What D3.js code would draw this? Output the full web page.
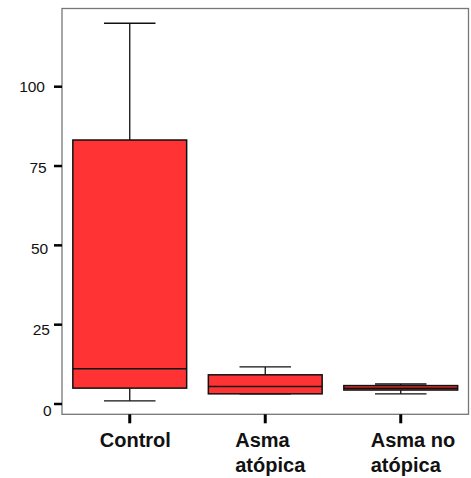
<!DOCTYPE html>
<html><head><meta charset="utf-8">
<script src="https://cdn.jsdelivr.net/npm/d3@7"></script>
<style>body{margin:0;background:#fff;}svg{display:block;}</style>
</head><body>
<script>
const categories = [["Control"], ["Asma", "atópica"], ["Asma no", "atópica"]];
const whiskerLow = [1, 3.2, 3.2];
const q1 = [5, 3.2, 4.4];
const median = [11.1, 5.5, 5.0];
const q3 = [83.2, 9.2, 5.8];
const whiskerHigh = [120, 11.7, 6.3];
const yTicks = [0, 25, 50, 75, 100];

(function () {
const W = 471, H = 478;
const mL = 62, mR = 468.5, mT = 8.5, mB = 414.3;
const svg = d3.select("body").append("svg").attr("width", W).attr("height", H);

const x = d3.scaleBand().domain(d3.range(categories.length)).range([mL, mR]).padding(0);
const y = d3.scaleLinear().domain([0, 100]).range([404, 86.7]);
// label placement scale (labels in the original drift slightly from their ticks)
const yl = d3.scaleLinear().domain([0, 100]).range([410, 86.7]);
const xl = d3.scaleLinear().domain([0, 100]).range([51.5, 45]);

// frame
svg.append("rect").attr("x", mL).attr("y", mT).attr("width", mR - mL).attr("height", mB - mT)
  .attr("fill", "none").attr("stroke", "#777").attr("stroke-width", 1.3);

// y axis ticks
svg.selectAll(".yt").data(yTicks).enter().append("line")
  .attr("x1", mL - 8).attr("x2", mL).attr("y1", d => y(d)).attr("y2", d => y(d))
  .attr("stroke", "#000").attr("stroke-width", 2.5);
svg.selectAll(".yl").data(yTicks).enter().append("text")
  .attr("x", d => xl(d)).attr("y", d => yl(d)).attr("dy", "0.36em")
  .attr("text-anchor", "end").attr("font-family", "Liberation Sans, Arial, sans-serif")
  .attr("font-size", 15.5).attr("fill", "#111").text(d => d);

// x ticks
const cx = i => x(i) + x.bandwidth() / 2;
svg.selectAll(".xt").data(categories).enter().append("line")
  .attr("x1", (d, i) => cx(i)).attr("x2", (d, i) => cx(i)).attr("y1", mB).attr("y2", mB + 9)
  .attr("stroke", "#000").attr("stroke-width", 3);

// x labels
const lbl = svg.selectAll(".xl").data(categories).enter().append("text")
  .attr("font-family", "Liberation Sans, Arial, sans-serif").attr("font-weight", "bold")
  .attr("font-size", 20).attr("fill", "#111");
lbl.each(function(d, i) {
  const t = d3.select(this);
  d.forEach((line, j) => {
    t.append("tspan").attr("x", cx(i) - 30).attr("y", 446.7 + j * 25).text(line);
  });
});

// boxes
const boxW = x.bandwidth() * 0.84, capW = x.bandwidth() * 0.38;
const g = svg.selectAll(".box").data(categories).enter().append("g");
g.append("line").attr("x1", (d, i) => cx(i)).attr("x2", (d, i) => cx(i))
  .attr("y1", (d, i) => y(q3[i])).attr("y2", (d, i) => y(whiskerHigh[i])).attr("stroke", "#111").attr("stroke-width", 1.3);
g.append("line").attr("x1", (d, i) => cx(i)).attr("x2", (d, i) => cx(i))
  .attr("y1", (d, i) => y(q1[i])).attr("y2", (d, i) => y(whiskerLow[i])).attr("stroke", "#111").attr("stroke-width", 1.3);
g.append("line").attr("x1", (d, i) => cx(i) - capW / 2).attr("x2", (d, i) => cx(i) + capW / 2)
  .attr("y1", (d, i) => y(whiskerHigh[i])).attr("y2", (d, i) => y(whiskerHigh[i])).attr("stroke", "#111").attr("stroke-width", 1.3);
g.append("line").attr("x1", (d, i) => cx(i) - capW / 2).attr("x2", (d, i) => cx(i) + capW / 2)
  .attr("y1", (d, i) => y(whiskerLow[i])).attr("y2", (d, i) => y(whiskerLow[i])).attr("stroke", "#111").attr("stroke-width", 1.3);
g.append("rect").attr("x", (d, i) => cx(i) - boxW / 2).attr("width", boxW)
  .attr("y", (d, i) => y(q3[i])).attr("height", (d, i) => y(q1[i]) - y(q3[i]))
  .attr("fill", "#ff3333").attr("stroke", "#111").attr("stroke-width", 1.5);
g.append("line").attr("x1", (d, i) => cx(i) - boxW / 2).attr("x2", (d, i) => cx(i) + boxW / 2)
  .attr("y1", (d, i) => y(median[i])).attr("y2", (d, i) => y(median[i])).attr("stroke", "#111").attr("stroke-width", 1.5);
})();
</script>
</body></html>
